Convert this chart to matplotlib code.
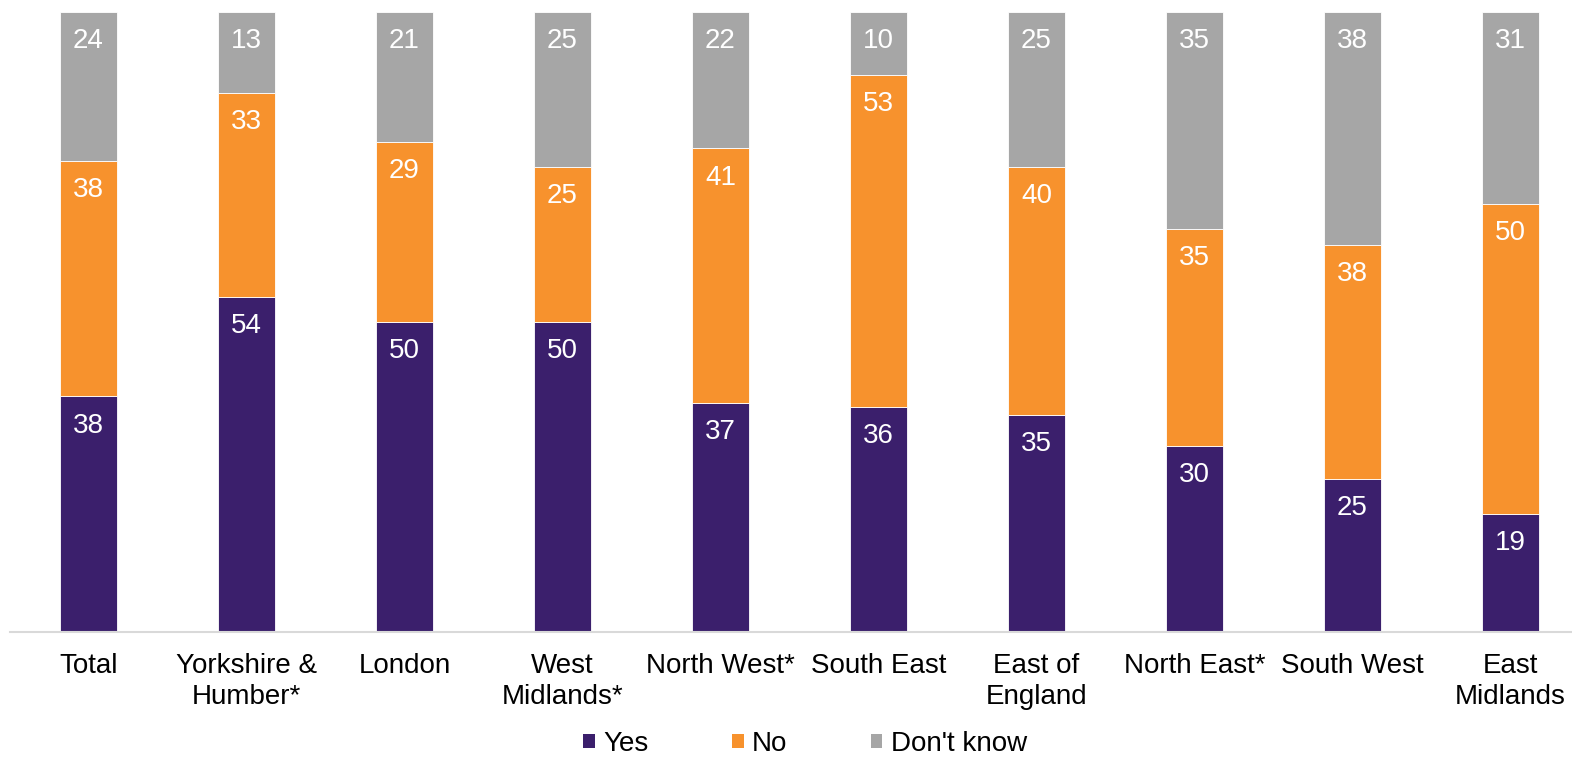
import matplotlib
matplotlib.use("Agg")
import matplotlib.pyplot as plt
import numpy as np
from matplotlib.patches import Patch

plt.rcParams['font.family'] = ['Liberation Sans', 'DejaVu Sans']

categories = ["Total", "Yorkshire &\nHumber*", "London", "West\nMidlands*", "North West*",
              "South East", "East of\nEngland", "North East*", "South West", "East\nMidlands"]
yes = [38, 54, 50, 50, 37, 36, 35, 30, 25, 19]
no = [38, 33, 29, 25, 41, 53, 40, 35, 38, 50]
dont_know = [24, 13, 21, 25, 22, 10, 25, 35, 38, 31]
series_names = ["Yes", "No", "Don't know"]
colors = ["#3B1F6C", "#F7922D", "#A6A6A6"]

fig = plt.figure(figsize=(15.72, 7.59), dpi=100)
W, H = 1572, 759
ax_left, ax_right = 9.5, 1572
ax_top, ax_bottom = 12, 632
ax = fig.add_axes([ax_left / W, 1 - ax_bottom / H, (ax_right - ax_left) / W, (ax_bottom - ax_top) / H])

data = np.array([yes, no, dont_know], dtype=float)
totals = data.sum(axis=0)
pct = data / totals * 100

x = np.arange(len(categories))
spacing = 158.0
width = 57 / spacing
fs = 20
bottom = np.zeros(len(categories))
for i, name in enumerate(series_names):
    bars = ax.bar(x, pct[i], width, bottom=bottom, color=colors[i], edgecolor='white', linewidth=0.6, label=name)
    for j, b in enumerate(bars):
        top = bottom[j] + pct[i][j]
        ax.annotate(str(int(data[i][j])), (x[j], top), xytext=(0, -21), textcoords='offset points',
                    ha='center', va='center', color='white', fontsize=fs)
    bottom += pct[i]

ax.set_xlim(-0.5, -0.5 + (ax_right - ax_left) / spacing)
ax.set_ylim(0, 100)
ax.set_xticks(x)
ax.set_xticklabels(categories, fontsize=fs, linespacing=1.25)
ax.tick_params(axis='x', length=0, pad=15)
ax.set_yticks([])
for s in ['top', 'right', 'left']:
    ax.spines[s].set_visible(False)
ax.spines['bottom'].set_color('#D9D9D9')
ax.spines['bottom'].set_linewidth(1.5)

handles = [Patch(facecolor=c, edgecolor='none') for c in colors]
fig.legend(handles, series_names, loc='center', bbox_to_anchor=(805 / W, 1 - 744 / H), ncol=3,
           frameon=False, fontsize=fs, handlelength=0.42, handleheight=0.42, handletextpad=0.3,
           columnspacing=3.0, borderpad=0.1)

fig.savefig("out.png", dpi=100)
